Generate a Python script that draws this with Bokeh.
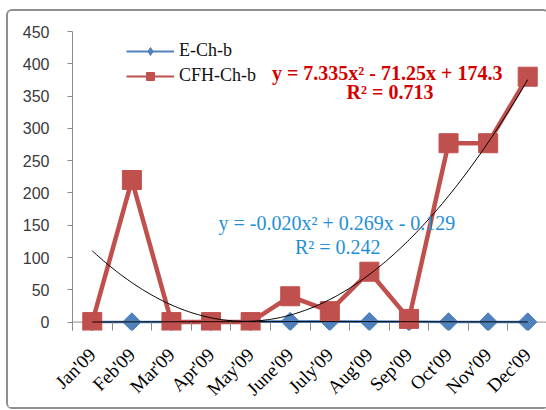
import numpy as np
from bokeh.plotting import figure
from bokeh.models import FixedTicker, Range1d, Legend, LegendItem, Label, Span
from bokeh.embed import file_html
from bokeh.resources import INLINE

# Monthly series
months = ["Jan'09", "Feb'09", "Mar'09", "Apr'09", "May'09", "June'09",
          "July'09", "Aug'09", "Sep'09", "Oct'09", "Nov'09", "Dec'09"]
e_ch_b = [0.1, 0.2, 0.3, 0.5, 0.6, 1.0, 0.8, 0.7, 0.5, 0.3, 0.2, 0.1]
cfh_ch_b = [0, 220, 0, 0, 0, 40, 17, 78, 5, 277, 277, 380]

# Quadratic trend coefficients (a, b, c) for y = a x^2 + b x + c
e_fit = [-0.020, 0.269, -0.129]
cfh_fit = [7.335, -71.25, 174.3]
e_r2 = 0.242
cfh_r2 = 0.713

y_ticks = list(range(0, 451, 50))

x = list(range(1, len(months) + 1))

axis_grey = "#8a8a8a"

# A little room below zero keeps the markers on the baseline whole
p = figure(width=543, height=400, output_backend="svg", toolbar_location=None,
           x_range=Range1d(0.5, 12.5), y_range=Range1d(-13, 450),
           min_border_left=64, min_border_right=4, min_border_top=20,
           min_border_bottom=81)
p.styles = {"margin-left": "6px", "margin-top": "9px",
            "border": "2px solid #8f8f8f", "border-radius": "6px"}
p.outline_line_color = None
p.xgrid.grid_line_color = None
p.ygrid.grid_line_color = None
p.background_fill_color = "white"

# Axes
p.yaxis.ticker = FixedTicker(ticks=y_ticks)
p.yaxis.axis_line_color = axis_grey
p.yaxis.major_tick_line_color = axis_grey
p.yaxis.major_tick_out = 5
p.yaxis.major_tick_in = 0
p.yaxis.minor_tick_line_color = None
p.yaxis.major_label_text_font = "Liberation Sans"
p.yaxis.major_label_text_font_size = "16px"
p.yaxis.major_label_text_color = "#3a3a3a"
p.yaxis.major_label_standoff = 18

# Category axis: baseline drawn at zero, boundary ticks hang below it
p.add_layout(Span(location=0, dimension="width", line_color=axis_grey,
                  line_width=1, level="underlay"))
p.xaxis.ticker = FixedTicker(ticks=x, minor_ticks=[v + 0.5 for v in range(0, 13)])
p.xaxis.major_label_overrides = {i + 1: m for i, m in enumerate(months)}
p.xaxis.axis_line_color = None
p.xaxis.major_tick_line_color = None
p.xaxis.major_tick_out = 0
p.xaxis.major_tick_in = 0
p.xaxis.minor_tick_line_color = axis_grey
p.xaxis.minor_tick_out = 0
p.xaxis.minor_tick_in = 8
p.xaxis.major_label_orientation = np.pi / 4
p.xaxis.major_label_text_font = "Liberation Serif"
p.xaxis.major_label_text_font_size = "19px"
p.xaxis.major_label_text_color = "black"
p.xaxis.major_label_standoff = 21

blue = "#4f81bd"
red = "#c0504d"

# Slimmer legend keys, drawn first so the series cover them
bkey_line = p.line(x, e_ch_b, line_color=blue, line_width=2)
bkey_mark = p.scatter(x, e_ch_b, marker="diamond", size=12,
                      fill_color=blue, line_color=blue)
rkey_line = p.line(x, cfh_ch_b, line_color=red, line_width=2)
rkey_mark = p.scatter(x, cfh_ch_b, marker="square", size=12,
                      fill_color=red, line_color=red)

# Series
p.line(x, e_ch_b, line_color=blue, line_width=2.5)
p.scatter(x, e_ch_b, marker="square", angle=np.pi / 4, size=13,
          fill_color=blue, line_color=blue)
p.line(x, cfh_ch_b, line_color=red, line_width=4.5)
p.scatter(x, cfh_ch_b, marker="square", size=19, fill_color=red, line_color=red)

# Trend curves from the stated coefficients
xs = np.linspace(1, 12, 200)
p.line(xs, np.polyval(e_fit, xs), line_color="black", line_width=1)
p.line(xs, np.polyval(cfh_fit, xs), line_color="black", line_width=1)

legend = Legend(items=[LegendItem(label="E-Ch-b", renderers=[bkey_line, bkey_mark]),
                       LegendItem(label="CFH-Ch-b", renderers=[rkey_line, rkey_mark])],
                location=(54, 244), orientation="vertical",
                border_line_color=None, background_fill_alpha=0,
                label_text_font="Liberation Serif", label_text_font_size="18px",
                label_text_color="#111111",
                glyph_width=48, glyph_height=20, label_height=20,
                label_standoff=5, spacing=4, padding=0, margin=0)
p.add_layout(legend)


def term(v, digits, first=False):
    if first:
        return f"{v:.{digits}f}"
    return ("- " if v < 0 else "+ ") + f"{abs(v):.{digits}f}"


def equation(coef, digits):
    a, b, c = coef
    return (f"y = {term(a, digits[0], True)}x\u00b2 "
            f"{term(b, digits[1])}x {term(c, digits[2])}")


red_txt = "#d40000"
blue_txt = "#1f8fd6"
eq_font = "Liberation Serif"
p.add_layout(Label(x=8.45, y=386, text=equation(cfh_fit, (3, 2, 1)),
                   text_align="center", text_baseline="middle", text_font=eq_font,
                   text_font_size="20px", text_font_style="bold", text_color=red_txt))
p.add_layout(Label(x=8.52, y=357, text=f"R\u00b2 = {cfh_r2:.3f}",
                   text_align="center", text_baseline="middle", text_font=eq_font,
                   text_font_size="20px", text_font_style="bold", text_color=red_txt))
p.add_layout(Label(x=7.18, y=153, text=equation(e_fit, (3, 3, 3)),
                   text_align="center", text_baseline="middle", text_font=eq_font,
                   text_font_size="20px", text_color=blue_txt))
p.add_layout(Label(x=7.2, y=117, text=f"R\u00b2 = {e_r2:.3f}",
                   text_align="center", text_baseline="middle", text_font=eq_font,
                   text_font_size="20px", text_color=blue_txt))

open("out.html", "w").write(file_html(p, INLINE))
